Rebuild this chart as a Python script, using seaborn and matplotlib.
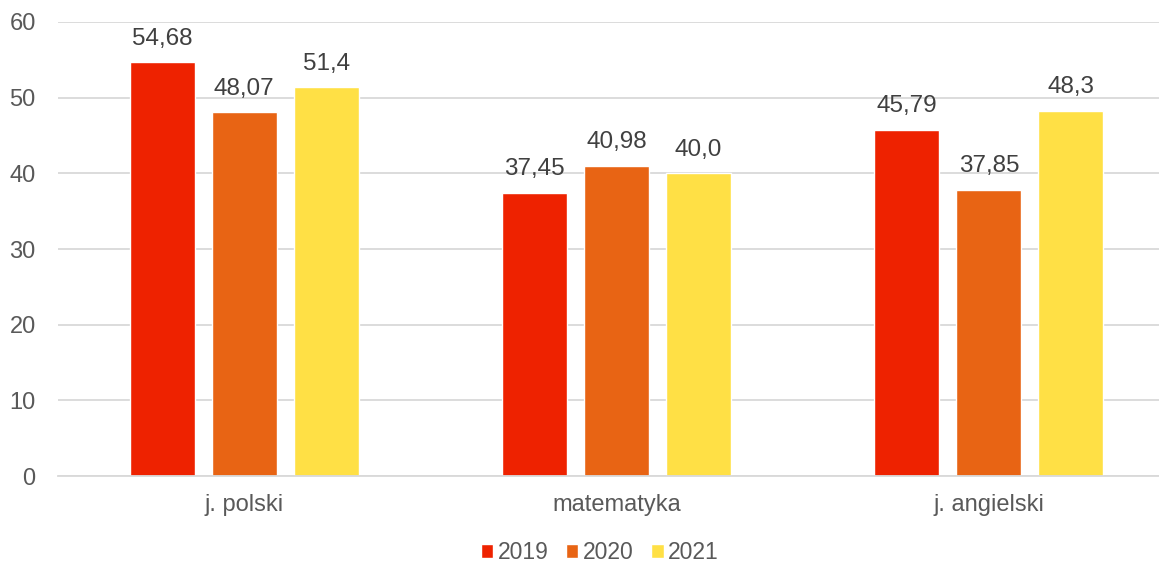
import matplotlib
matplotlib.use("Agg")
import matplotlib.pyplot as plt
import seaborn as sns
import pandas as pd

subjects = ["j. polski", "matematyka", "j. angielski"]
years = ["2019", "2020", "2021"]
scores_2019 = [54.68, 37.45, 45.79]
scores_2020 = [48.07, 40.98, 37.85]
scores_2021 = [51.4, 40.0, 48.3]
labels_2019 = ["54,68", "37,45", "45,79"]
labels_2020 = ["48,07", "40,98", "37,85"]
labels_2021 = ["51,4", "40,0", "48,3"]
colors = ["#EE2200", "#E86414", "#FFE045"]

df = pd.DataFrame({
    "subject": subjects * 3,
    "year": [y for y in years for _ in subjects],
    "score": scores_2019 + scores_2020 + scores_2021,
})
label_sets = [labels_2019, labels_2020, labels_2021]

sns.set_theme(style="white")
plt.rcParams["font.family"] = ["Liberation Sans", "DejaVu Sans"]
text_color = "#595959"

fig = plt.figure(figsize=(11.59, 5.64), dpi=100)
ax = fig.add_axes([0.05, 0.156, 0.9638, 0.805])

sns.barplot(data=df, x="subject", y="score", hue="year", palette=colors,
            width=0.661, gap=0.206, saturation=1, ax=ax, legend=True)

for container, labels in zip(ax.containers, label_sets):
    ax.bar_label(container, labels=labels, padding=9, fontsize=17.5, color="#404040")

ax.set_ylim(0, 60)
ax.set_yticks(range(0, 61, 10))
ax.set_xlim(-0.5, 2.5)
ax.yaxis.grid(True, color="#D9D9D9", linewidth=1.3)
ax.set_axisbelow(True)
for s in ["top", "right", "left"]:
    ax.spines[s].set_visible(False)
ax.spines["bottom"].set_color("#D9D9D9")
ax.spines["bottom"].set_linewidth(1.3)
ax.tick_params(axis="both", length=0, labelsize=17, colors=text_color)
ax.tick_params(axis="x", pad=13)
ax.tick_params(axis="y", pad=16)
ax.set_xlabel("")
ax.set_ylabel("")

ax.legend(loc="upper center", bbox_to_anchor=(0.485, -0.108), ncol=3, frameon=False,
          fontsize=16.5, labelcolor=text_color, handlelength=0.55, handleheight=0.55,
          handletextpad=0.2, columnspacing=0.75, borderpad=0.2)

fig.savefig("out.png", dpi=100)
